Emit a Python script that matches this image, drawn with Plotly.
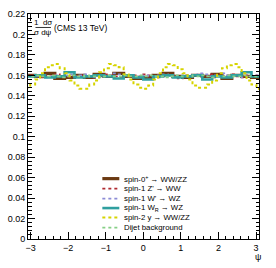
import numpy as np
import plotly.graph_objects as go

# ---------------- data ----------------
bin_edges_lo = -np.pi
bin_edges_hi = np.pi
n_bins = 48

labels = [
    "spin-0<sup>+</sup> → WW/ZZ",
    "spin-1 Z' → WW",
    "spin-1 W' → WZ",
    "spin-1 W<sub>R</sub> → WZ",
    "spin-2 y → WW/ZZ",
    "Dijet background",
]

spin0 = [0.160, 0.160, 0.159, 0.159, 0.162, 0.162, 0.157, 0.157, 0.158, 0.158, 0.160, 0.160,
         0.158, 0.158, 0.161, 0.161, 0.159, 0.159, 0.162, 0.162, 0.159, 0.159, 0.157, 0.157,
         0.158, 0.158, 0.160, 0.160, 0.162, 0.162, 0.159, 0.159, 0.158, 0.158, 0.160, 0.160,
         0.159, 0.159, 0.161, 0.161, 0.157, 0.157, 0.160, 0.160, 0.159, 0.159, 0.158, 0.158]
zprime = [0.159, 0.160, 0.159, 0.158, 0.160, 0.159, 0.161, 0.159, 0.158, 0.160, 0.159, 0.160,
          0.159, 0.158, 0.160, 0.159, 0.161, 0.160, 0.159, 0.158, 0.160, 0.159, 0.160, 0.159,
          0.161, 0.160, 0.159, 0.158, 0.159, 0.160, 0.159, 0.157, 0.160, 0.159, 0.160, 0.159,
          0.159, 0.161, 0.158, 0.160, 0.159, 0.160, 0.161, 0.159, 0.158, 0.160, 0.159, 0.160]
wprime = [0.160, 0.159, 0.159, 0.160, 0.158, 0.159, 0.160, 0.159, 0.160, 0.161, 0.159, 0.160,
          0.161, 0.159, 0.158, 0.159, 0.160, 0.160, 0.162, 0.161, 0.159, 0.160, 0.158, 0.159,
          0.160, 0.159, 0.159, 0.160, 0.161, 0.160, 0.159, 0.158, 0.160, 0.159, 0.160, 0.162,
          0.161, 0.159, 0.160, 0.159, 0.162, 0.160, 0.159, 0.160, 0.158, 0.159, 0.160, 0.160]
wr = [0.159, 0.159, 0.160, 0.160, 0.158, 0.158, 0.159, 0.159, 0.163, 0.163, 0.158, 0.158,
      0.159, 0.159, 0.160, 0.160, 0.159, 0.159, 0.157, 0.157, 0.160, 0.160, 0.158, 0.158,
      0.156, 0.156, 0.159, 0.159, 0.160, 0.160, 0.158, 0.158, 0.159, 0.159, 0.160, 0.160,
      0.156, 0.156, 0.159, 0.159, 0.158, 0.158, 0.160, 0.160, 0.163, 0.163, 0.159, 0.159]
spin2 = [0.148, 0.151, 0.156, 0.162, 0.168, 0.170, 0.171, 0.167, 0.162, 0.155, 0.150, 0.147,
         0.147, 0.151, 0.155, 0.163, 0.167, 0.171, 0.170, 0.168, 0.161, 0.156, 0.151, 0.148,
         0.147, 0.150, 0.156, 0.162, 0.168, 0.171, 0.170, 0.166, 0.162, 0.156, 0.150, 0.148,
         0.148, 0.151, 0.155, 0.162, 0.167, 0.170, 0.171, 0.168, 0.162, 0.155, 0.151, 0.147]
dijet = [0.159, 0.159, 0.160, 0.159, 0.159, 0.160, 0.159, 0.158, 0.159, 0.160, 0.159, 0.159,
         0.160, 0.159, 0.159, 0.158, 0.159, 0.160, 0.159, 0.159, 0.160, 0.159, 0.159, 0.160,
         0.159, 0.160, 0.159, 0.159, 0.158, 0.159, 0.160, 0.159, 0.159, 0.160, 0.159, 0.159,
         0.160, 0.159, 0.158, 0.159, 0.159, 0.160, 0.159, 0.159, 0.160, 0.159, 0.159, 0.160]

series = [spin0, zprime, wprime, wr, spin2, dijet]
colors = ["#6b3a12", "#b02a30", "#8c8cd6", "#2f9f9f", "#d6d400", "#86cf86"]
widths = [3.2, 1.8, 1.8, 2.6, 2.0, 1.8]
dashes = ["solid", "dot", "dot", "solid", "dot", "dot"]

y_tickvals = [0, 0.02, 0.04, 0.06, 0.08, 0.1, 0.12, 0.14, 0.16, 0.18, 0.2, 0.22]
y_ticktext = ["0", "0.02", "0.04", "0.06", "0.08", "0.1", "0.12", "0.14", "0.16", "0.18", "0.2", "0.22"]
x_tickvals = [-3, -2, -1, 0, 1, 2, 3]

# ---------------- figure ----------------
edges = np.linspace(bin_edges_lo, bin_edges_hi, n_bins + 1)
W, H = 276, 268
L, R, T, B = 27.5, 17, 14, 28.5
pw, ph = W - L - R, H - T - B

fig = go.Figure()
draw_order = [0, 1, 2, 3, 5, 4]
for i in draw_order:
    y = list(series[i]) + [series[i][-1]]
    fig.add_trace(go.Scatter(
        x=edges, y=y, mode="lines", line_shape="hv",
        line=dict(color=colors[i], width=widths[i], dash=dashes[i]),
        showlegend=False, hoverinfo="skip"))

font = "Liberation Sans, Arial, sans-serif"
fig.update_layout(
    width=W, height=H,
    margin=dict(l=L, r=R, t=T, b=B, pad=0, autoexpand=False),
    paper_bgcolor="white", plot_bgcolor="white",
    font=dict(family=font, size=9, color="black"),
    xaxis=dict(range=[-3.07, 3.08], tickvals=x_tickvals, ticks="inside", ticklen=7,
               tickwidth=1, tickcolor="black", mirror="allticks", showline=True,
               linecolor="black", linewidth=1, showgrid=False, zeroline=False,
               tickfont=dict(size=9), automargin=False,
               minor=dict(ticks="inside", ticklen=3.5, dtick=0.2, tick0=0,
                          tickcolor="black", showgrid=False)),
    yaxis=dict(range=[0, 0.22], tickvals=y_tickvals, ticktext=y_ticktext, ticks="inside",
               ticklen=7, tickwidth=1, tickcolor="black", mirror="allticks", showline=True,
               linecolor="black", linewidth=1, showgrid=False, zeroline=False,
               tickfont=dict(size=9), automargin=False,
               minor=dict(ticks="inside", ticklen=3.5, dtick=0.004, tick0=0,
                          tickcolor="black", showgrid=False)),
)

def px(xp):
    return (xp - L) / pw

def py(yp):
    return (H - B - yp) / ph

# y-axis title fraction
fig.add_annotation(x=px(42.5), y=py(22.5), xref="paper", yref="paper", text="1  dσ",
                   showarrow=False, font=dict(size=8, family=font), xanchor="center", yanchor="middle")
fig.add_annotation(x=px(42.5), y=py(32.5), xref="paper", yref="paper", text="σ dψ",
                   showarrow=False, font=dict(size=8, family=font), xanchor="center", yanchor="middle")
fig.add_shape(type="line", xref="paper", yref="paper", x0=px(35), x1=px(50.5), y0=py(27.5), y1=py(27.5),
              line=dict(color="black", width=0.8))
fig.add_annotation(x=px(52), y=py(28), xref="paper", yref="paper", text="(CMS 13 TeV)",
                   showarrow=False, font=dict(size=8.5, family=font), xanchor="left", yanchor="middle")

# x-axis title
fig.add_annotation(x=px(258), y=py(258), xref="paper", yref="paper", text="ψ",
                   showarrow=False, font=dict(size=9, family=font), xanchor="center", yanchor="middle")

# legend
row_y = [179, 189, 199, 208.5, 218, 228]
for i in range(6):
    fig.add_shape(type="line", xref="paper", yref="paper", x0=px(102), x1=px(119),
                  y0=py(row_y[i]), y1=py(row_y[i]),
                  line=dict(color=colors[i], width=widths[i], dash=dashes[i]))
    fig.add_annotation(x=px(122), y=py(row_y[i]), xref="paper", yref="paper", text=labels[i],
                       showarrow=False, font=dict(size=7.8, family=font),
                       xanchor="left", yanchor="middle")

fig.write_html("out.html", config={"displayModeBar": False},
               post_script="document.body.style.margin='0px';")
